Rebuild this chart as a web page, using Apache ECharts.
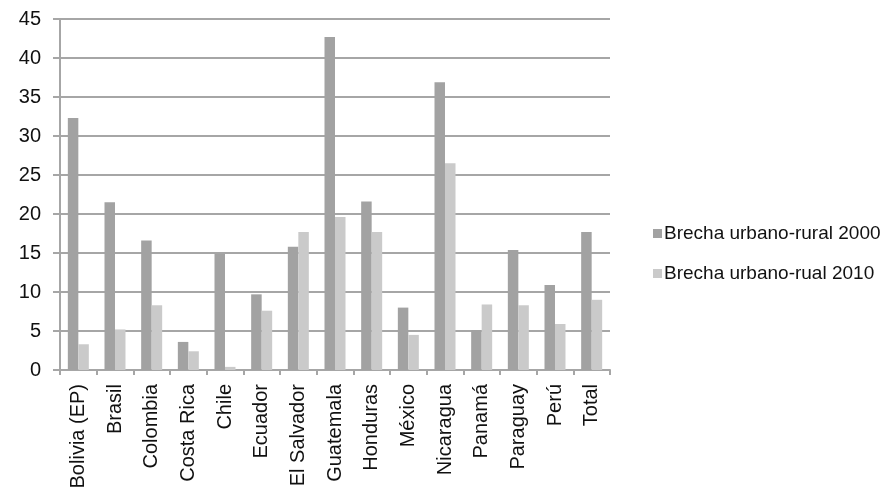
<!DOCTYPE html>
<html>
<head>
<meta charset="utf-8">
<script src="https://cdn.jsdelivr.net/npm/echarts@6/dist/echarts.min.js"></script>
<style>
  html, body { margin: 0; padding: 0; background: #fff; }
  #chart { width: 883px; height: 495px; }
</style>
</head>
<body>
<div id="chart"></div>
<script>
// Countries (plus regional total)
const categories = ['Bolivia (EP)', 'Brasil', 'Colombia', 'Costa Rica', 'Chile', 'Ecuador',
  'El Salvador', 'Guatemala', 'Honduras', 'México', 'Nicaragua', 'Panamá', 'Paraguay', 'Perú', 'Total'];

// Urban-rural gap, 2000
const brecha2000 = [32.3, 21.5, 16.6, 3.6, 14.9, 9.7, 15.8, 42.7, 21.6, 8.0, 36.9, 5.1, 15.4, 10.9, 17.7];
// Urban-rural gap, 2010
const brecha2010 = [3.3, 5.2, 8.3, 2.4, 0.4, 7.6, 17.7, 19.6, 17.7, 4.5, 26.5, 8.4, 8.3, 5.9, 9.0];

const seriesNames = ['Brecha urbano-rural 2000', 'Brecha urbano-rual 2010'];
const yTicks = { min: 0, max: 45, interval: 5 };

const FONT = '"Liberation Sans", Arial, Helvetica, sans-serif';
const AXIS_GRAY = '#a6a6a6';
const TEXT = '#111111';

const chart = echarts.init(document.getElementById('chart'), null, { renderer: 'canvas' });
chart.setOption({
  animation: false,
  backgroundColor: '#ffffff',
  textStyle: { fontFamily: FONT },
  grid: { left: 60, right: 273, top: 19, bottom: 125, containLabel: false },
  legend: {
    orient: 'vertical',
    left: 648,
    top: 219,
    itemWidth: 9,
    itemHeight: 9,
    itemGap: 21,
    icon: 'rect',
    textStyle: { fontFamily: FONT, fontSize: 19, color: TEXT, padding: [0, 0, 0, -3] },
    data: seriesNames
  },
  xAxis: {
    type: 'category',
    data: categories,
    axisLine: { lineStyle: { color: AXIS_GRAY, width: 2 } },
    axisTick: { show: true, length: 5, lineStyle: { color: AXIS_GRAY, width: 2 } },
    axisLabel: {
      rotate: 90,
      interval: 0,
      margin: 14,
      fontFamily: FONT,
      fontSize: 20,
      color: TEXT
    },
    splitLine: { show: false }
  },
  yAxis: {
    type: 'value',
    min: yTicks.min,
    max: yTicks.max,
    interval: yTicks.interval,
    axisLine: { show: true, lineStyle: { color: AXIS_GRAY, width: 2 } },
    axisTick: { show: true, length: 7, lineStyle: { color: AXIS_GRAY, width: 2 } },
    axisLabel: { margin: 19, fontFamily: FONT, fontSize: 20, color: TEXT },
    splitLine: { show: true, lineStyle: { color: AXIS_GRAY, width: 2 } }
  },
  series: [
    {
      name: seriesNames[0],
      type: 'bar',
      data: brecha2000,
      barWidth: 10.5,
      barGap: '0%',
      itemStyle: { color: '#a2a2a2' }
    },
    {
      name: seriesNames[1],
      type: 'bar',
      data: brecha2010,
      barWidth: 10.5,
      barGap: '0%',
      itemStyle: { color: '#cacaca' }
    }
  ]
});
</script>
</body>
</html>
